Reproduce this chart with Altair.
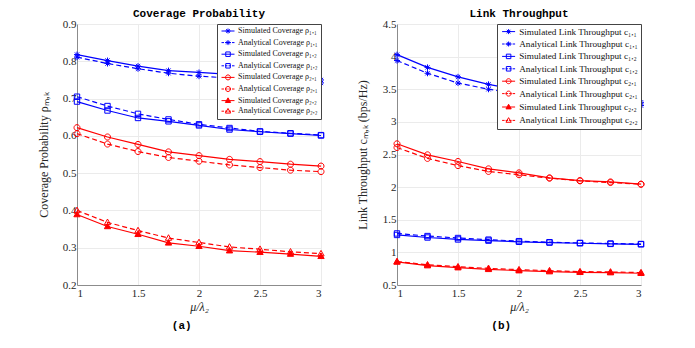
import altair as alt
import pandas as pd

# ---------------- data ----------------
mu_ratio = [1.0, 1.25, 1.5, 1.75, 2.0, 2.25, 2.5, 2.75, 3.0]

cov_sim_11 = [0.818, 0.802, 0.787, 0.775, 0.770, 0.765, 0.760, 0.755, 0.750]
cov_ana_11 = [0.811, 0.794, 0.780, 0.768, 0.760, 0.755, 0.750, 0.746, 0.742]
cov_sim_12 = [0.692, 0.668, 0.648, 0.639, 0.628, 0.617, 0.611, 0.606, 0.601]
cov_ana_12 = [0.705, 0.680, 0.659, 0.644, 0.631, 0.621, 0.612, 0.607, 0.602]
cov_sim_21 = [0.622, 0.597, 0.577, 0.557, 0.547, 0.537, 0.531, 0.524, 0.519]
cov_ana_21 = [0.606, 0.578, 0.558, 0.542, 0.532, 0.522, 0.515, 0.508, 0.504]
cov_sim_22 = [0.389, 0.357, 0.336, 0.313, 0.304, 0.292, 0.288, 0.283, 0.277]
cov_ana_22 = [0.400, 0.368, 0.346, 0.326, 0.314, 0.302, 0.296, 0.289, 0.284]

thr_sim_11 = [4.03, 3.835, 3.69, 3.575, 3.49, 3.42, 3.37, 3.33, 3.30]
thr_ana_11 = [3.94, 3.745, 3.595, 3.50, 3.43, 3.37, 3.32, 3.28, 3.25]
thr_sim_12 = [1.267, 1.228, 1.198, 1.180, 1.162, 1.150, 1.140, 1.130, 1.124]
thr_ana_12 = [1.290, 1.250, 1.220, 1.195, 1.172, 1.156, 1.145, 1.135, 1.128]
thr_sim_21 = [2.664, 2.495, 2.393, 2.280, 2.219, 2.142, 2.100, 2.080, 2.045]
thr_ana_21 = [2.607, 2.440, 2.330, 2.240, 2.190, 2.137, 2.096, 2.070, 2.045]
thr_sim_22 = [0.853, 0.797, 0.766, 0.740, 0.720, 0.705, 0.695, 0.690, 0.680]
thr_ana_22 = [0.860, 0.810, 0.780, 0.755, 0.735, 0.720, 0.705, 0.700, 0.690]

cov_labels = [
    "Simulated Coverage ρ₁,₁", "Analytical Coverage ρ₁,₁",
    "Simulated Coverage ρ₁,₂", "Analytical Coverage ρ₁,₂",
    "Simulated Coverage ρ₂,₁", "Analytical Coverage ρ₂,₁",
    "Simulated Coverage ρ₂,₂", "Analytical Coverage ρ₂,₂",
]
thr_labels = [
    "Simulated Link Throughput c₁,₁", "Analytical Link Throughput c₁,₁",
    "Simulated Link Throughput c₁,₂", "Analytical Link Throughput c₁,₂",
    "Simulated Link Throughput c₂,₁", "Analytical Link Throughput c₂,₁",
    "Simulated Link Throughput c₂,₂", "Analytical Link Throughput c₂,₂",
]

cov_ticks = [0.2, 0.3, 0.4, 0.5, 0.6, 0.7, 0.8, 0.9]
thr_ticks = [0.5, 1, 1.5, 2, 2.5, 3, 3.5, 4, 4.5]
x_ticks = [1, 1.5, 2, 2.5, 3]

# ---------------- styles ----------------
BLUE, RED = "#0000ff", "#ff0000"
series_colors = [BLUE] * 4 + [RED] * 4
series_kind = ["sim", "ana"] * 4
series_marker = ["ast", "ast", "sq", "sq", "circ", "circ", "tri", "tri"]
series_fill = ["transparent"] * 6 + [RED, "transparent"]

MARKERS = {
    "ast": "M-1,0L1,0M0,-1L0,1M-0.71,-0.71L0.71,0.71M-0.71,0.71L0.71,-0.71",
    "sq": "M-0.9,-0.9L0.9,-0.9L0.9,0.9L-0.9,0.9Z",
    "circ": "M1,0A1,1 0 1 1 -1,0A1,1 0 1 1 1,0Z",
    "tri": "M0,-1.1L1.05,0.75L-1.05,0.75Z",
}
LINE_SOLID = "M-2.6,0L2.6,0"
LINE_DASH = "M-2.6,0L-1.6,0M-1.2,0L-0.2,0M0.2,0L1.2,0M1.6,0L2.6,0"
legend_paths = [
    (LINE_SOLID if k == "sim" else LINE_DASH) + MARKERS[m]
    for k, m in zip(series_kind, series_marker)
]

SERIF = "Liberation Serif"
MONO = "Liberation Mono"


def make_df(labels, series_values):
    rows = []
    for name, vals, col, kind, mk, fl in zip(labels, series_values, series_colors,
                                             series_kind, series_marker, series_fill):
        for xv, yv in zip(mu_ratio, vals):
            rows.append(dict(x=xv, y=yv, series=name, kind=kind, color=col,
                             mpath=MARKERS[mk], fillc=fl))
    return pd.DataFrame(rows)


def panel(df, labels, ydomain, yticks, yfmt, ytitle, title, sub,
          ytitle_pad, leg_font, leg_rowpad):
    base = alt.Chart(df).encode(
        x=alt.X("x:Q", scale=alt.Scale(domain=[1, 3], nice=False, zero=False),
                axis=alt.Axis(values=x_ticks, format="~g", title="μ/λ₂",
                              titleFontStyle="italic", titlePadding=3, labelPadding=2)),
        y=alt.Y("y:Q", scale=alt.Scale(domain=ydomain, nice=False, zero=False),
                axis=alt.Axis(values=yticks, format=yfmt, title=ytitle,
                              titlePadding=ytitle_pad, labelPadding=1)),
    )
    sim_lines = base.mark_line(strokeWidth=1.2).encode(
        detail="series:N", stroke=alt.Stroke("color:N", scale=None)
    ).transform_filter("datum.kind == 'sim'")
    ana_lines = base.mark_line(strokeWidth=1.2, strokeDash=[5, 3]).encode(
        detail="series:N", stroke=alt.Stroke("color:N", scale=None)
    ).transform_filter("datum.kind == 'ana'")
    points = base.mark_point(size=36, strokeWidth=1, opacity=1).encode(
        shape=alt.Shape("mpath:N", scale=None),
        stroke=alt.Stroke("color:N", scale=None),
        fill=alt.Fill("fillc:N", scale=None),
    )
    leg = alt.Legend(title=None, orient="top-right", offset=0, padding=3,
                     fillColor="white", strokeColor="#444444",
                     labelFont=SERIF, labelFontSize=leg_font, labelColor="#111111",
                     symbolSize=25, symbolStrokeWidth=1, rowPadding=leg_rowpad,
                     labelOffset=6, symbolOffset=4, labelLimit=400)
    legend_layer = base.mark_point(size=25, strokeWidth=1, opacity=1).encode(
        shape=alt.Shape("series:N", scale=alt.Scale(domain=labels, range=legend_paths), legend=leg),
        stroke=alt.Stroke("series:N", scale=alt.Scale(domain=labels, range=series_colors), legend=leg),
        fill=alt.Fill("series:N", scale=alt.Scale(domain=labels, range=series_fill), legend=leg),
    ).transform_filter("datum.x < 0")
    layer = alt.layer(sim_lines, ana_lines, points, legend_layer).properties(
        width=244, height=261,
        title=alt.Title(title, font=MONO, fontWeight="bold", fontSize=11,
                        offset=-1, anchor="middle", color="#000000"),
    )
    return alt.vconcat(layer, title=alt.Title(sub, orient="bottom", font=MONO,
                                              fontWeight="bold", fontSize=11,
                                              offset=8, anchor="middle",
                                              color="#000000")).resolve_scale(
        shape="independent", stroke="independent", fill="independent")


cov_df = make_df(cov_labels, [cov_sim_11, cov_ana_11, cov_sim_12, cov_ana_12,
                              cov_sim_21, cov_ana_21, cov_sim_22, cov_ana_22])
thr_df = make_df(thr_labels, [thr_sim_11, thr_ana_11, thr_sim_12, thr_ana_12,
                              thr_sim_21, thr_ana_21, thr_sim_22, thr_ana_22])

left = panel(cov_df, cov_labels, [0.2, 0.9], cov_ticks, ".1f",
             "Coverage Probability ρₘ,ₖ", "Coverage Probability", "(a)", 12, 8, 1.6)
right = panel(thr_df, thr_labels, [0.5, 4.5], thr_ticks, "~g",
              "Link Throughput cₘ,ₖ (bps/Hz)", "Link Throughput", "(b)", 13, 9.2, 2.4)

chart = alt.hconcat(left, right, spacing=29).resolve_scale(
    shape="independent", stroke="independent", fill="independent"
).properties(
    padding={"left": 29, "top": 0, "right": 5, "bottom": 0}
).configure_view(stroke=None).configure_axis(
    grid=True, gridColor="#ebebeb", gridWidth=1, ticks=False,
    domainColor="#8c8c8c", domainWidth=1,
    labelFont=SERIF, labelFontSize=11, labelColor="#262626",
    titleFont=SERIF, titleFontSize=12, titleFontWeight="normal", titleColor="#262626",
).configure_concat(spacing=0)

chart.save("out.html", embed_options={"renderer": "svg", "actions": False})
